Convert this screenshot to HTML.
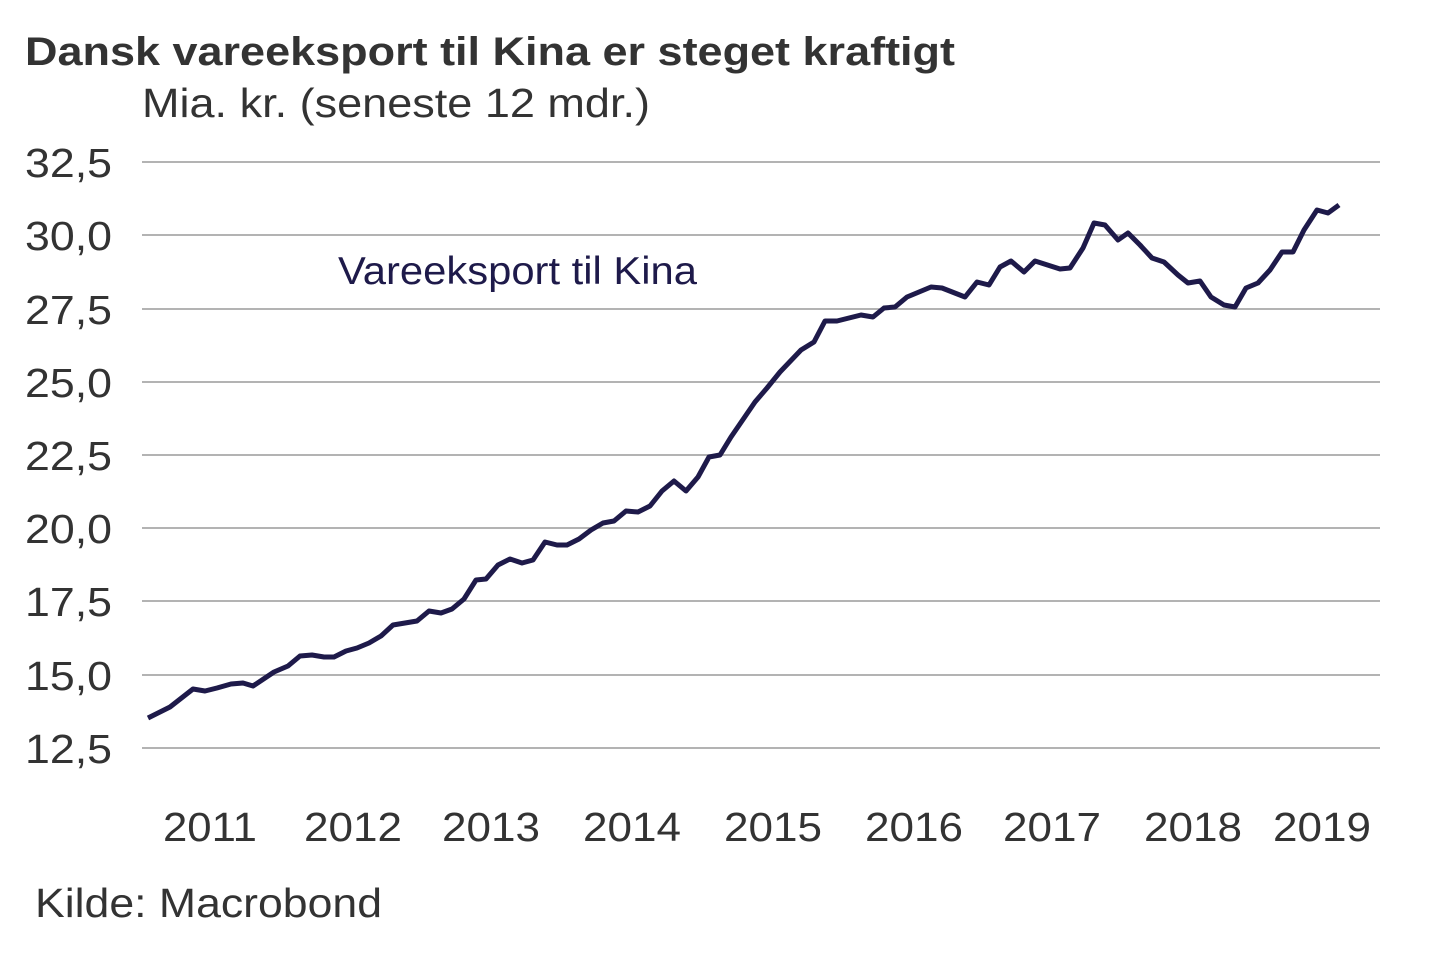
<!DOCTYPE html>
<html><head><meta charset="utf-8"><style>
html,body{margin:0;padding:0;background:#fff;}
svg text{font-family:"Liberation Sans",Arial,sans-serif;}
</style></head><body>
<svg width="1440" height="960" xmlns="http://www.w3.org/2000/svg">
<text x="25" y="65" font-size="40" font-weight="bold" fill="#333" textLength="930" lengthAdjust="spacingAndGlyphs">Dansk vareeksport til Kina er steget kraftigt</text>
<text x="142" y="117" font-size="41" fill="#333" textLength="508" lengthAdjust="spacingAndGlyphs">Mia. kr. (seneste 12 mdr.)</text>
<g stroke="#9a9a9a" stroke-width="1.5">
<line x1="142" x2="1380" y1="162" y2="162"/><line x1="142" x2="1380" y1="235" y2="235"/>
<line x1="142" x2="1380" y1="309" y2="309"/><line x1="142" x2="1380" y1="382" y2="382"/>
<line x1="142" x2="1380" y1="455" y2="455"/><line x1="142" x2="1380" y1="528" y2="528"/>
<line x1="142" x2="1380" y1="601" y2="601"/><line x1="142" x2="1380" y1="675" y2="675"/>
<line x1="142" x2="1380" y1="748" y2="748"/>
</g>
<g font-size="41" fill="#333">
<text x="25" y="177" textLength="87" lengthAdjust="spacingAndGlyphs">32,5</text>
<text x="25" y="250" textLength="87" lengthAdjust="spacingAndGlyphs">30,0</text>
<text x="25" y="324" textLength="87" lengthAdjust="spacingAndGlyphs">27,5</text>
<text x="25" y="397" textLength="87" lengthAdjust="spacingAndGlyphs">25,0</text>
<text x="25" y="470" textLength="87" lengthAdjust="spacingAndGlyphs">22,5</text>
<text x="25" y="543" textLength="87" lengthAdjust="spacingAndGlyphs">20,0</text>
<text x="25" y="616" textLength="87" lengthAdjust="spacingAndGlyphs">17,5</text>
<text x="25" y="690" textLength="87" lengthAdjust="spacingAndGlyphs">15,0</text>
<text x="25" y="763" textLength="87" lengthAdjust="spacingAndGlyphs">12,5</text>
</g>
<g font-size="41" fill="#333">
<text x="163" y="841" textLength="94" lengthAdjust="spacingAndGlyphs">2011</text>
<text x="304" y="841" textLength="98" lengthAdjust="spacingAndGlyphs">2012</text>
<text x="442" y="841" textLength="98" lengthAdjust="spacingAndGlyphs">2013</text>
<text x="583" y="841" textLength="98" lengthAdjust="spacingAndGlyphs">2014</text>
<text x="724" y="841" textLength="98" lengthAdjust="spacingAndGlyphs">2015</text>
<text x="865" y="841" textLength="98" lengthAdjust="spacingAndGlyphs">2016</text>
<text x="1003" y="841" textLength="98" lengthAdjust="spacingAndGlyphs">2017</text>
<text x="1144" y="841" textLength="98" lengthAdjust="spacingAndGlyphs">2018</text>
<text x="1273" y="841" textLength="98" lengthAdjust="spacingAndGlyphs">2019</text>
</g>
<text x="338" y="284" font-size="39" fill="#1e1a4a" textLength="359" lengthAdjust="spacingAndGlyphs">Vareeksport til Kina</text>
<polyline fill="none" stroke="#1e1a4a" stroke-width="5" stroke-linejoin="round" points="148,718 170,707 193,689 205,691 217,688 231,684 243,683 253,686 274,672 288,666 300,656 312,655 324,657 334,657 346,651 357,648 369,643 381,636 393,625 405,623 417,621 429,611 441,613 452,609 464,599 476,580 486,579 498,565 510,559 522,563 533,560 545,542 557,545 567,545 579,539 591,530 603,523 614,521 626,511 638,512 650,506 662,491 674,481 686,491 698,477 709,457 720,455 731,437 755,402 767,388 780,372 801,350 814,342 825,321 837,321 849,318 861,315 873,317 884,308 895,307 907,297 919,292 931,287 942,288 965,297 977,282 989,285 1000,267 1011,261 1024,272 1035,261 1060,269 1070,268 1083,248 1094,223 1105,225 1118,240 1128,233 1140,245 1152,258 1164,262 1178,275 1188,283 1200,281 1211,297 1224,305 1235,307 1246,288 1258,283 1270,270 1282,252 1293,252 1304,230 1317,210 1328,213 1339,205"/>
<text x="35" y="917" font-size="41" fill="#333" textLength="347" lengthAdjust="spacingAndGlyphs">Kilde: Macrobond</text>
</svg>
</body></html>
